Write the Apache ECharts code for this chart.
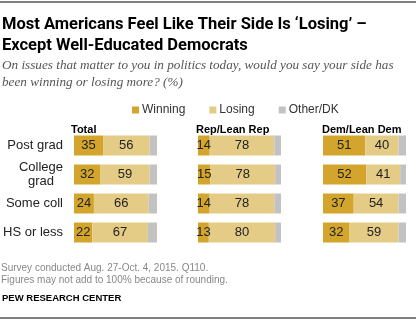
<!DOCTYPE html>
<html>
<head>
<meta charset="utf-8">
<script src="https://cdn.jsdelivr.net/npm/echarts@6/dist/echarts.min.js"></script>
<style>
  html, body { margin: 0; padding: 0; background: #fff; }
  #chart { width: 420px; height: 325px; }
</style>
</head>
<body>
<div id="chart"></div>
<script>
// Education groups (rows, top to bottom)
const categories = ['Post grad', 'College grad', 'Some coll', 'HS or less'];
const panels = ['Total', 'Rep/Lean Rep', 'Dem/Lean Dem'];

// Share saying their side has been winning / losing / other-DK (%)
const totalWinning = [35, 32, 24, 22];
const totalLosing  = [56, 59, 66, 67];
const totalOther   = [9, 9, 10, 11];

const repWinning = [14, 15, 14, 13];
const repLosing  = [78, 78, 78, 80];
const repOther   = [8, 7, 8, 7];

const demWinning = [51, 52, 37, 32];
const demLosing  = [40, 41, 54, 59];
const demOther   = [9, 7, 9, 9];

const panelData = [
  [totalWinning, totalLosing, totalOther],
  [repWinning, repLosing, repOther],
  [demWinning, demLosing, demOther]
];
const seriesNames = ['Winning', 'Losing', 'Other/DK'];
const colors = ['#D3A52C', '#E4CB86', '#C2C2C2'];

const gridLeft = [74, 198, 323];
const gridTop = 131, gridH = 116, gridW = 83;
const fontBase = '"Liberation Sans", Arial, sans-serif';

const grids = [], xAxes = [], yAxes = [], series = [];
panelData.forEach((vals, p) => {
  grids.push({ left: gridLeft[p], top: gridTop, width: gridW, height: gridH });
  xAxes.push({ gridIndex: p, type: 'value', min: 0, max: 100, show: false });
  yAxes.push({
    gridIndex: p, type: 'category', inverse: true, data: categories,
    axisLine: { show: false }, axisTick: { show: false },
    axisLabel: {
      show: p === 0, margin: 11, color: '#222', fontSize: 13, fontFamily: fontBase,
      formatter: v => v === 'College grad' ? '{a|College}\n{b|grad}' : v,
      rich: {
        a: { fontSize: 13, color: '#222', fontFamily: fontBase, lineHeight: 14 },
        b: { fontSize: 13, color: '#222', fontFamily: fontBase, lineHeight: 14, align: 'center' }
      }
    }
  });
  vals.forEach((arr, s) => {
    series.push({
      name: seriesNames[s], type: 'bar', stack: 'p' + p,
      xAxisIndex: p, yAxisIndex: p, barWidth: 20,
      data: arr,
      itemStyle: { color: colors[s] },
      label: {
        show: s < 2, position: 'inside', color: '#222', fontSize: 13,
        fontFamily: fontBase
      },
      emphasis: { disabled: true },
      animation: false
    });
  });
});

const headerX = [71, 196, 322];
const chart = echarts.init(document.getElementById('chart'), null, { renderer: 'canvas' });
chart.setOption({
  animation: false,
  title: [
    {
      text: 'Most Americans Feel Like Their Side Is \u2018Losing\u2019 \u2013\nExcept Well-Educated Democrats',
      left: 2, top: 14, padding: 0,
      textStyle: { fontSize: 16.5, fontWeight: 'bold', color: '#000', fontFamily: '"Roboto", sans-serif', lineHeight: 21 }
    },
    {
      text: 'On issues that matter to you in politics today, would you say your side has\nbeen winning or losing more? (%)',
      left: 2, top: 57, padding: 0,
      textStyle: { fontSize: 13.2, fontStyle: 'italic', fontWeight: 'normal', color: '#555', fontFamily: '"Liberation Serif", serif', lineHeight: 17 }
    },
    {
      text: 'Survey conducted Aug. 27-Oct. 4, 2015. Q110.\nFigures may not add to 100% because of rounding.',
      left: 1, top: 261.5, padding: 0,
      textStyle: { fontSize: 10, fontWeight: 'normal', color: '#888', fontFamily: fontBase, lineHeight: 12.5 }
    },
    {
      text: 'PEW RESEARCH CENTER',
      left: 2, top: 293.5, padding: 0,
      textStyle: { fontSize: 9.5, fontWeight: 'bold', color: '#000', fontFamily: fontBase }
    }
  ].concat(panels.map((t, i) => ({
    text: t, left: headerX[i], top: 124, padding: 0,
    textStyle: { fontSize: 11, fontWeight: 'bold', color: '#000', fontFamily: fontBase }
  }))),
  legend: {
    left: 127, top: 99, icon: 'rect', itemWidth: 7, itemHeight: 7, itemGap: 24,
    selectedMode: false,
    textStyle: { fontSize: 12, color: '#333', fontFamily: fontBase, padding: [0, 0, 0, -2] },
    data: seriesNames
  },
  graphic: [
    { type: 'line', shape: { x1: 0, y1: 2, x2: 416, y2: 2 }, style: { stroke: '#000', lineWidth: 1 } },
    { type: 'line', shape: { x1: 0, y1: 318, x2: 416, y2: 318 }, style: { stroke: '#000', lineWidth: 1 } }
  ],
  grid: grids,
  xAxis: xAxes,
  yAxis: yAxes,
  series: series
});
</script>
</body>
</html>
